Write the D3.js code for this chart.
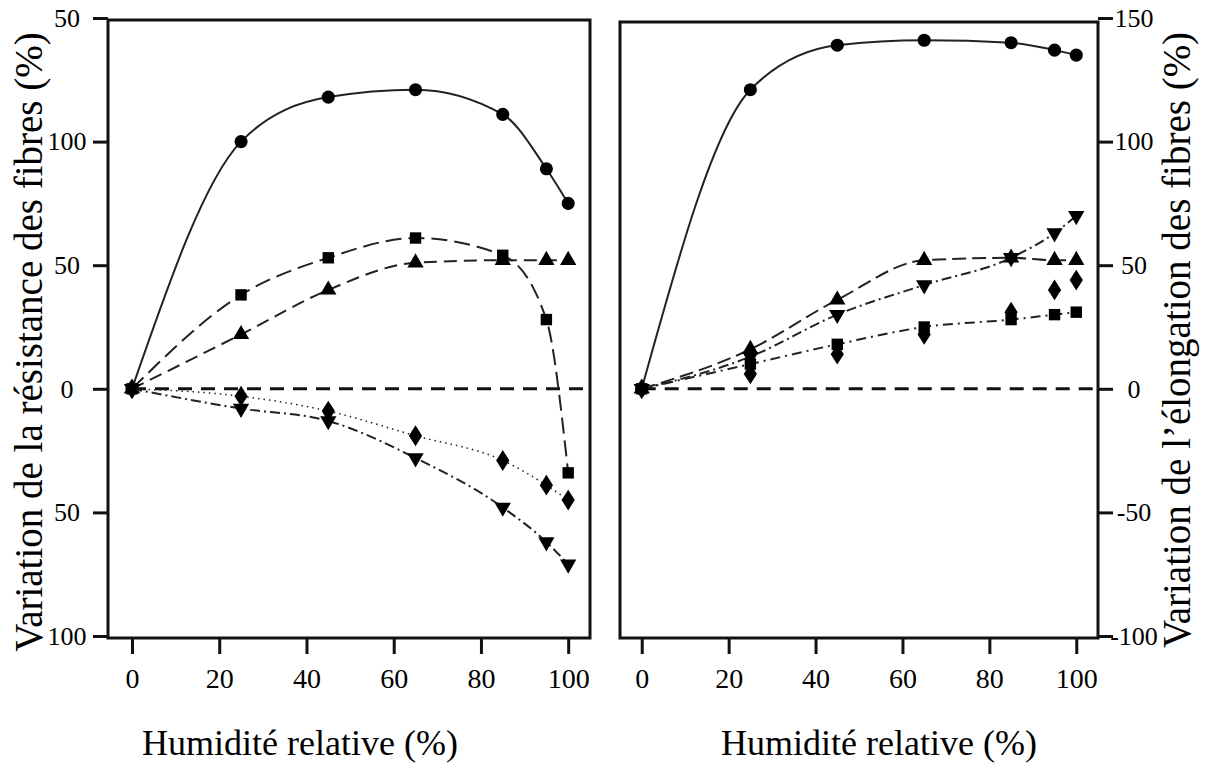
<!DOCTYPE html>
<html><head><meta charset="utf-8">
<script src="https://cdn.jsdelivr.net/npm/d3@7"></script>
<style>html,body{margin:0;padding:0;background:#fff}svg{display:block}</style>
</head><body><svg id="c" width="1205" height="782"></svg>
<script>
// ---- data ----
const humidity = [0, 25, 45, 65, 85, 95, 100];
// left panel: variation de la résistance (%)
const resCircle   = [0, 100, 118, 121, 111, 89, 75];
const resSquare   = [0, 38, 53, 61, 54, 28, -34];
const resTriUp    = [0, 22, 40, 51, 52, 52, 52];
const resDiamond  = [0, -3, -9, -19, -29, -39, -45];
const resTriDown  = [0, -8, -13, -28, -48, -62, -71];
// right panel: variation de l'élongation (%)
const elCircle    = [0, 121, 139, 141, 140, 137, 135];
const elTriUp     = [0, 16, 36, 52, 53, 52, 52];
const elTriDown   = [0, 13, 30, 42, 53, 63, 70];
const elSquare    = [0, 10, 18, 25, 28, 30, 31];
const elDiamond   = [0, 6, 14, 22, 31, 40, 44];
// ticks
const xTicks = [0, 20, 40, 60, 80, 100];
const yTicks = [150, 100, 50, 0, -50, -100];
const leftYLabels  = ["50", "100", "50", "0", "50", "100"];
const rightYLabels = ["150", "100", "50", "0", "-50", "-100"];
const xTitle = "Humidité relative (%)";
const leftTitle = "Variation de la résistance des fibres (%)";
const rightTitle = "Variation de l\u2019élongation des fibres (%)";

const FONT = '"Liberation Serif"';
const svg = d3.select("#c");

const panels = [
  {x0: 108, x1: 590, xd: [-5.5, 105], y0: 20, y1: 638, side: "left", labels: leftYLabels,
   series: [
     {v: resCircle, sym: "circle", dash: null},
     {v: resSquare, sym: "square", dash: "16,7"},
     {v: resTriUp, sym: "triUp", dash: "13,7"},
     {v: resDiamond, sym: "diamond", dash: "1.5,4", thin: true},
     {v: resTriDown, sym: "triDown", dash: "10,4,2,4"}
   ]},
  {x0: 620, x1: 1098, xd: [-5, 105], y0: 22, y1: 638, side: "right", labels: rightYLabels,
   series: [
     {v: elCircle, sym: "circle", dash: null},
     {v: elTriUp, sym: "triUp", dash: "14,6"},
     {v: elTriDown, sym: "triDown", dash: "10,4,2,4"},
     {v: elSquare, sym: "square", dash: "10,5,2,5"},
     {v: elDiamond, sym: "diamond", dash: null, noLine: true}
   ]}
];

const symGen = {
  circle: d3.symbol().type(d3.symbolCircle).size(135),
  square: d3.symbol().type(d3.symbolSquare).size(130),
  triUp: d3.symbol().type(d3.symbolTriangle).size(115),
  triDown: d3.symbol().type(d3.symbolTriangle).size(115),
  diamond: d3.symbol().type(d3.symbolDiamond).size(125)
};

panels.forEach(p => {
  const x = d3.scaleLinear().domain(p.xd).range([p.x0, p.x1]);
  const y = d3.scaleLinear().domain([-100, 150]).range([636, 18]);
  const g = svg.append("g");

  g.append("rect").attr("x", p.x0).attr("y", p.y0)
    .attr("width", p.x1 - p.x0).attr("height", p.y1 - p.y0)
    .attr("fill", "none").attr("stroke", "#111").attr("stroke-width", 3);

  const xa = g.append("g").attr("transform", `translate(0,${p.y1})`)
    .call(d3.axisBottom(x).tickValues(xTicks).tickSize(16).tickSizeOuter(0).tickFormat(d => d));
  xa.select(".domain").remove();
  xa.selectAll(".tick line").attr("stroke", "#111").attr("stroke-width", 3);
  xa.selectAll(".tick text").attr("y", 50).attr("dy", 0)
    .style("font-family", FONT).style("font-size", "28px").attr("fill", "#000");

  const ax = p.side === "left" ? d3.axisLeft(y) : d3.axisRight(y);
  const yx = p.side === "left" ? p.x0 : p.x1;
  const ya = g.append("g").attr("transform", `translate(${yx},0)`)
    .call(ax.tickValues(yTicks).tickSize(15).tickSizeOuter(0).tickFormat((d, i) => p.labels[i]));
  ya.select(".domain").remove();
  ya.selectAll(".tick line").attr("stroke", "#111").attr("stroke-width", 3);
  ya.selectAll(".tick text").attr("text-anchor", "middle")
    .attr("x", p.side === "left" ? -41 : 36)
    .style("font-family", FONT).style("font-size", "26px").attr("fill", "#000");

  g.append("line").attr("x1", x(0)).attr("x2", p.x1)
    .attr("y1", y(0)).attr("y2", y(0))
    .attr("stroke", "#111").attr("stroke-width", 3).attr("stroke-dasharray", "14,9");

  const line = d3.line().x((d, i) => x(humidity[i])).y(d => y(d)).curve(d3.curveMonotoneX);

  p.series.forEach(s => {
    if (!s.noLine) {
      g.append("path").attr("d", line(s.v)).attr("fill", "none")
        .attr("stroke", "#222").attr("stroke-width", s.thin ? 1.5 : 2)
        .attr("stroke-dasharray", s.dash);
    }
    g.selectAll(null).data(s.v).join("path")
      .attr("d", symGen[s.sym]())
      .attr("transform", (d, i) => `translate(${x(humidity[i])},${y(d)})` + (s.sym === "triDown" ? " rotate(180)" : "") + (s.sym === "diamond" ? " scale(1.1,1)" : ""))
      .attr("fill", "#000");
  });
});

const titleStyle = (sel, size) => sel.style("font-family", FONT).style("font-size", size + "px").attr("fill", "#000");
titleStyle(svg.append("text").attr("x", 300).attr("y", 755).attr("text-anchor", "middle").text(xTitle), 36);
titleStyle(svg.append("text").attr("x", 879).attr("y", 755).attr("text-anchor", "middle").text(xTitle), 36);
titleStyle(svg.append("text").attr("transform", "translate(42,342) rotate(-90)").attr("text-anchor", "middle").text(leftTitle), 39);
titleStyle(svg.append("text").attr("transform", "translate(1190,340) rotate(-90)").attr("text-anchor", "middle").text(rightTitle), 39);
</script></body></html>
